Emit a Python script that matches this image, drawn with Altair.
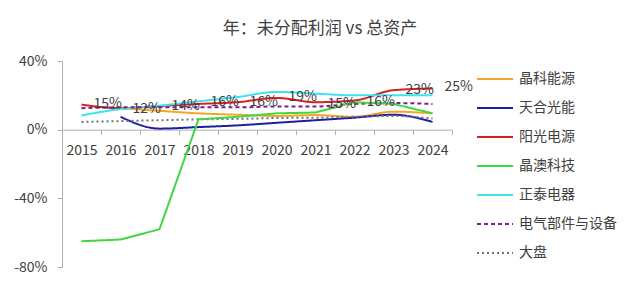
import altair as alt
import pandas as pd

years = ["2015", "2016", "2017", "2018", "2019", "2020", "2021", "2022", "2023", "2024"]
series_names = ["晶科能源", "天合光能", "阳光电源", "晶澳科技", "正泰电器", "电气部件与设备", "大盘"]
jinko = [None, 12.5, 11.0, 9.5, 8.7, 8.0, 8.5, 7.5, 10.5, 9.5]
trina = [None, 7.5, 0.6, 1.5, 2.5, 4.0, 5.5, 7.0, 8.7, 4.5]
sungrow = [14.6, 12.5, 13.8, 15.0, 16.0, 18.5, 16.0, 17.0, 23.0, 24.0]
jasolar = [-65.0, -64.0, -58.0, 6.0, 7.5, 9.5, 10.0, 16.0, 15.0, 9.5]
chint = [8.3, 12.0, 14.0, 16.5, 19.0, 22.0, 21.0, 20.0, 20.0, 20.0]
sector = [12.5, 13.0, 13.0, 13.0, 13.0, 13.5, 13.5, 15.0, 15.5, 15.0]
market = [4.5, 5.0, 5.5, 6.0, 6.3, 6.8, 7.0, 7.5, 8.0, 6.5]
label_values = [15, 12, 14, 16, 16, 19, 15, 16, 23, 25]

colors = ["#F5A623", "#1F1F9E", "#D81E1E", "#3FD93F", "#3FE3F0", "#7A1F8C", "#707080"]
dashes = [[1, 0], [1, 0], [1, 0], [1, 0], [1, 0], [4, 3], [2, 3]]
widths = [2, 2, 3, 2, 2, 2, 2.5]

all_vals = [jinko, trina, sungrow, jasolar, chint, sector, market]
rows = []
for name, vals in zip(series_names, all_vals):
    for y, v in zip(years, vals):
        if v is not None:
            rows.append({"year": y, "series": name, "value": v / 100})
df = pd.DataFrame(rows)
lab = pd.DataFrame({"year": years, "value": [v / 100 for v in label_values],
                    "text": [f"{v}%" for v in label_values]})

W, H = 390, 206
FONT = "Noto Sans CJK SC"

x_enc = alt.X("year:N", sort=years, title=None,
              scale=alt.Scale(type="band", paddingInner=0, paddingOuter=0),
              axis=alt.Axis(labelAngle=0, offset=-H * 80 / 120, tickBand="extent",
                            tickSize=5, labelPadding=9, labelFontSize=14,
                            labelColor="#404040", labelFont=FONT,
                            domainColor="#B0B0B0", tickColor="#B0B0B0"))
y_scale = alt.Scale(domain=[-0.8, 0.4], nice=False)
y_enc = alt.Y("value:Q", scale=y_scale, title=None,
              axis=alt.Axis(values=[-0.8, -0.6, -0.4, -0.2, 0, 0.2, 0.4],
                            labelExpr="replace(format(datum.value, '.0%'), '\u2212', '-')",
                            grid=False, tickSize=5, labelPadding=10, labelFontSize=14,
                            labelColor="#404040", labelFont=FONT,
                            domainColor="#B0B0B0", tickColor="#B0B0B0"))
color_enc = alt.Color("series:N", sort=series_names, title=None,
                      scale=alt.Scale(domain=series_names, range=colors))
dash_enc = alt.StrokeDash("series:N", sort=series_names, title=None,
                          scale=alt.Scale(domain=series_names, range=dashes))
width_enc = alt.StrokeWidth("series:N", sort=series_names, title=None,
                            scale=alt.Scale(domain=series_names, range=widths))

base = alt.Chart(df)
smooth = base.transform_filter(alt.datum.series != "晶澳科技").mark_line(
    interpolate="monotone").encode(x=x_enc, y=y_enc, color=color_enc,
                                   strokeDash=dash_enc, strokeWidth=width_enc)
straight = base.transform_filter(alt.datum.series == "晶澳科技").mark_line(
    interpolate="linear").encode(x=x_enc, y=y_enc, color=color_enc,
                                 strokeDash=dash_enc, strokeWidth=width_enc)

labels = alt.Chart(lab).mark_text(align="left", baseline="middle", dx=12,
                                  fontSize=14, font=FONT, color="#404040").encode(
    x=alt.X("year:N", sort=years),
    y=alt.Y("value:Q", scale=y_scale),
    text="text:N",
)

chart = alt.layer(smooth, straight, labels).properties(
    width=W, height=H,
    autosize=alt.AutoSizeParams(type="none"),
    padding={"left": 62, "top": 61, "right": 188, "bottom": 17},
    title=alt.TitleParams("年：未分配利润 vs 总资产", fontSize=17, font=FONT,
                          fontWeight="normal", color="#404040", dx=63, offset=16),
).configure_view(stroke=None).configure_legend(
    orient="none", legendX=414, legendY=-1, symbolType="stroke", symbolSize=1296,
    labelFontSize=14, labelFont=FONT, labelColor="#404040", rowPadding=3,
    labelOffset=5,
)

chart.save("out.html", embed_options={"renderer": "svg", "actions": False})
